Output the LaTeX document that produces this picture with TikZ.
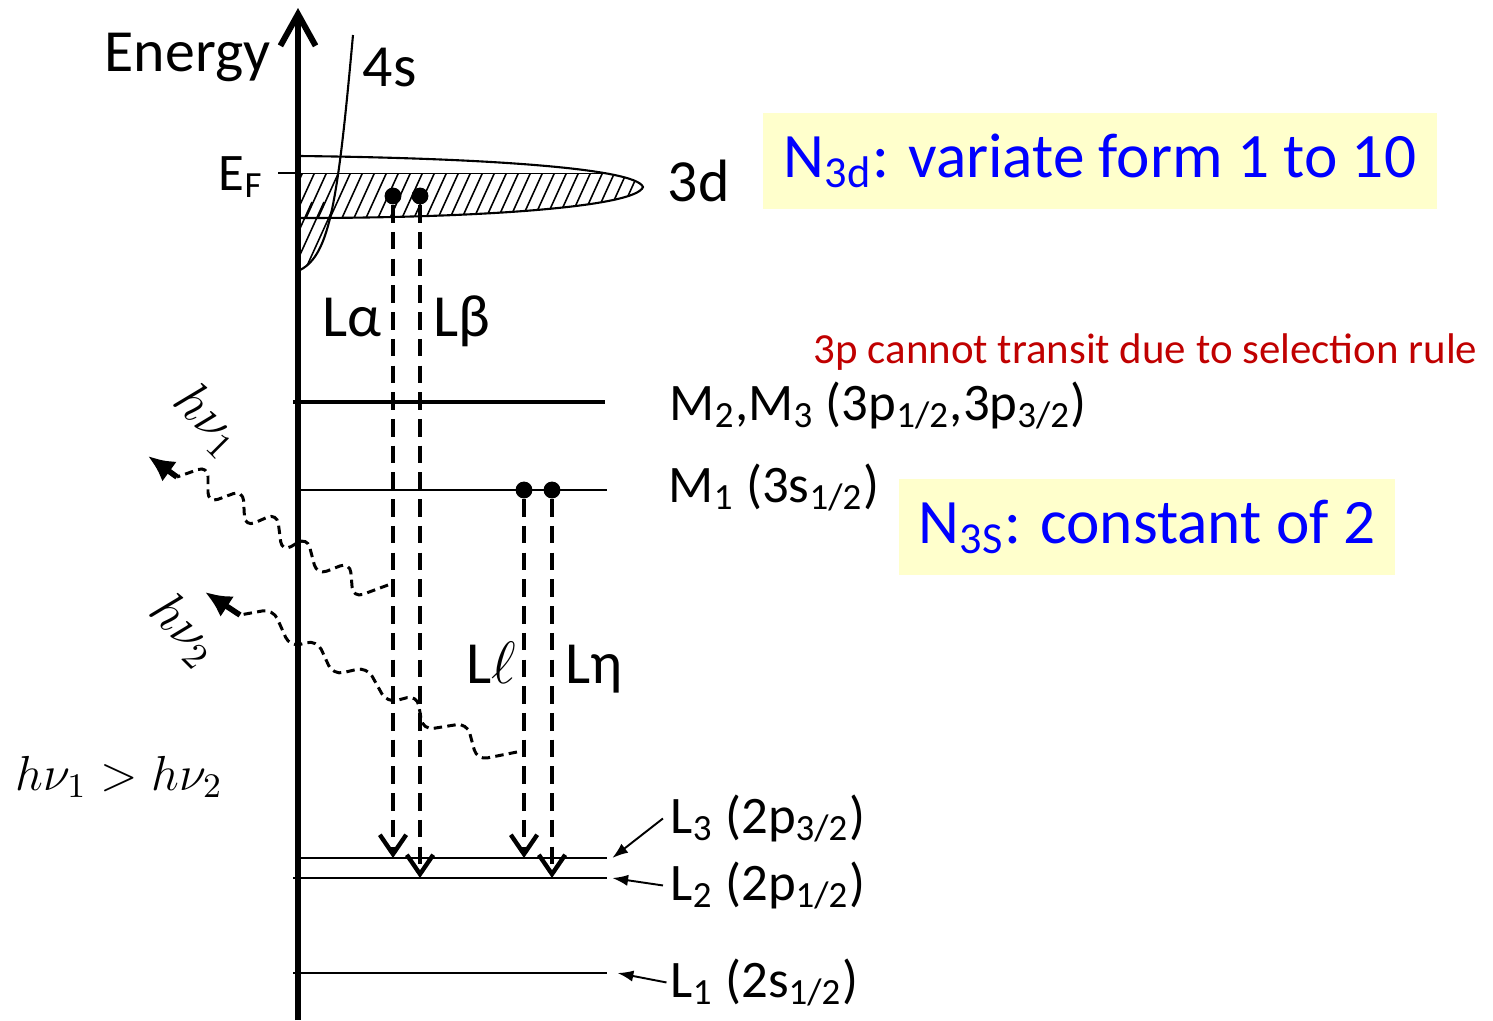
\RequirePackage{fix-cm}
\documentclass[tikz,border=0pt]{standalone}
\usepackage{fontspec}
\setmainfont{Carlito}
\usetikzlibrary{arrows.meta}

\definecolor{boxyellow}{RGB}{255,255,204}
\definecolor{boxblue}{RGB}{0,0,255}
\definecolor{rulered}{RGB}{192,0,0}

\tikzset{
  axisline/.style={line width=1.7pt, -{Straight Barb[length=9pt,width=10pt]}},
  thinlevel/.style={line width=0.7pt},
  thicklevel/.style={line width=1.05pt},
  hatchline/.style={line width=0.45pt},
  electron/.style={circle, fill=black, inner sep=0pt, minimum size=4.8pt},
  transition/.style={line width=1.25pt, dash pattern=on 5pt off 2.6pt, -{Straight Barb[length=5.5pt,width=7.5pt]}},
  photon/.style={line width=0.85pt, dash pattern=on 2.4pt off 1.5pt, rounded corners=3pt},
  photonhead/.style={line width=1.6pt, -{Latex[length=7.5pt,width=7pt]}},
  pointer/.style={line width=0.55pt, -{Latex[length=4.5pt,width=3.2pt]}},
  lvllabel/.style={anchor=base west, inner sep=0pt, font=\fontsize{15}{18}\selectfont},
  biglabel/.style={anchor=base west, inner sep=0pt, font=\fontsize{17}{20}\selectfont},
  notebox/.style={fill=boxyellow, text=boxblue, inner sep=0pt, font=\fontsize{18}{22}\selectfont},
}

\begin{document}
\begin{tikzpicture}[x=0.01cm, y=-0.01cm]
	\useasboundingbox (0,0) rectangle (1493,1020);
	% hatched 3d band below E_F
	\begin{scope}
		\clip (300,156) .. controls (480,158) and (636,168) .. (643,187) .. controls (636,207) and (480,218) .. (300,218) -- cycle;
		\clip (290,173) rectangle (700,230);
		\foreach \x in {200,212,...,700} \draw[hatchline] (\x,240) -- ++(40,-88);
		\draw[thinlevel] (300,173) -- (700,173);
	\end{scope}
	% hatched 4s tail
	\begin{scope}
		\clip (300,35) -- (353,35) .. controls (338,200) and (330,255) .. (300,270) -- cycle;
		\clip (290,173) rectangle (400,290);
		\foreach \x in {200,212,...,400} \draw[hatchline] (\x,290) -- ++(40,-88);
	\end{scope}
	\draw[line width=0.6pt] (300,156) .. controls (480,158) and (636,168) .. (643,187) .. controls (636,207) and (480,218) .. (300,218);
	\draw[line width=0.6pt] (353,35) .. controls (338,200) and (330,255) .. (300,270);
	\draw[thinlevel] (278,173) -- (300,173);

	% energy axis
	\draw[axisline] (298,1020) -- (298,8);

	% levels
	\coordinate (M23r) at (605,402);
	\coordinate (M1r) at (607,490);
	\coordinate (L3r) at (607,858);
	\coordinate (L2r) at (607,878);
	\coordinate (L1r) at (607,973);
	\draw[thicklevel] (293,402) -- (M23r);
	\draw[thinlevel] (298,490) -- (M1r);
	\draw[thinlevel] (298,858) -- (L3r);
	\draw[thinlevel] (293,878) -- (L2r);
	\draw[thinlevel] (293,973) -- (L1r);

	% electrons and transitions
	\node[electron] (ea) at (393,196) {};
	\node[electron] (eb) at (420,196) {};
	\node[electron] (ec) at (524,490) {};
	\node[electron] (ed) at (552,490) {};
	\draw[transition] (ea) -- (ea |- L3r);
	\draw[transition] (eb) -- (eb |- L2r);
	\draw[transition] (ec) -- (ec |- L3r);
	\draw[transition] (ed) -- (ed |- L2r);

	% emitted photons
	\draw[photon] (388,585) -- (353,598) -- (350,562) -- (317,575) -- (307,537) -- (282,552) -- (277,513) -- (245,527) -- (243,490) -- (208,503) -- (208,466) -- (177,477) coordinate (w1end);
	\draw[photonhead] (w1end) -- (148,456);
	\draw[photon] (517,752) -- (477,760) -- (467,723) -- (423,730) -- (417,695) -- (387,703) -- (367,667) -- (333,675) -- (317,640) -- (290,647) -- (273,609) -- (240,615) coordinate (w2end);
	\draw[photonhead] (w2end) -- (205,592);

	% labels
	\node[biglabel, anchor=base east] (energy) at (271,71) {Energy};
	\node[biglabel] (s4) at (362,86) {4s};
	\node[anchor=base east, inner sep=0pt, font=\fontsize{15}{18}\selectfont] (ef) at (264,190) {E\textsubscript{F}};
	\node[biglabel] (d3) at (667,201) {3d};
	\node[biglabel] (la) at (322,336) {Lα};
	\node[biglabel] (lb) at (433,336) {Lβ};
	\node[biglabel] (le) at (466,683) {L$\ell$};
	\node[biglabel] (ln) at (565,683) {Lη};
	\node[rotate=-45, inner sep=0pt, font=\fontsize{15}{18}\selectfont] (hv1) at (208,420) {$h\nu_1$};
	\node[rotate=-45, inner sep=0pt, font=\fontsize{15}{18}\selectfont] (hv2) at (184,630) {$h\nu_2$};
	\node[anchor=base west, inner sep=0pt, font=\fontsize{14}{16}\selectfont] (cmp) at (15,790) {$h\nu_1 > h\nu_2$};

	\node[lvllabel] (m23) at (669,420) {M\textsubscript{2},M\textsubscript{3} (3p\textsubscript{1/2},3p\textsubscript{3/2})};
	\node[lvllabel] (m1) at (668,502) {M\textsubscript{1} (3s\textsubscript{1/2})};
	\node[lvllabel] (l3) at (670,833) {L\textsubscript{3} (2p\textsubscript{3/2})};
	\node[lvllabel] (l2) at (670,900) {L\textsubscript{2} (2p\textsubscript{1/2})};
	\node[lvllabel] (l1) at (670,997) {L\textsubscript{1} (2s\textsubscript{1/2})};
	\draw[pointer] ([xshift=-2pt]l3.west) -- ([xshift=1.5pt]L3r);
	\draw[pointer] ([xshift=-2pt]l2.west) -- ([xshift=1.5pt]L2r);
	\draw[pointer] ([xshift=-1pt]l1.west) -- ([xshift=3pt]L1r);

	% notes
	\node[anchor=base west, inner sep=0pt, text=rulered, font=\fontsize{12.2}{14}\selectfont] (rule) at (813,363) {3p cannot transit due to selection rule};
	\node[notebox, minimum width=6.73cm, minimum height=0.96cm] (n3d) at (1100,161) {N\textsubscript{3d}: variate form 1 to 10};
	\node[notebox, minimum width=4.95cm, minimum height=0.95cm] (n3s) at (1147,527) {N\textsubscript{3S}: constant of 2};
\end{tikzpicture}
\end{document}
